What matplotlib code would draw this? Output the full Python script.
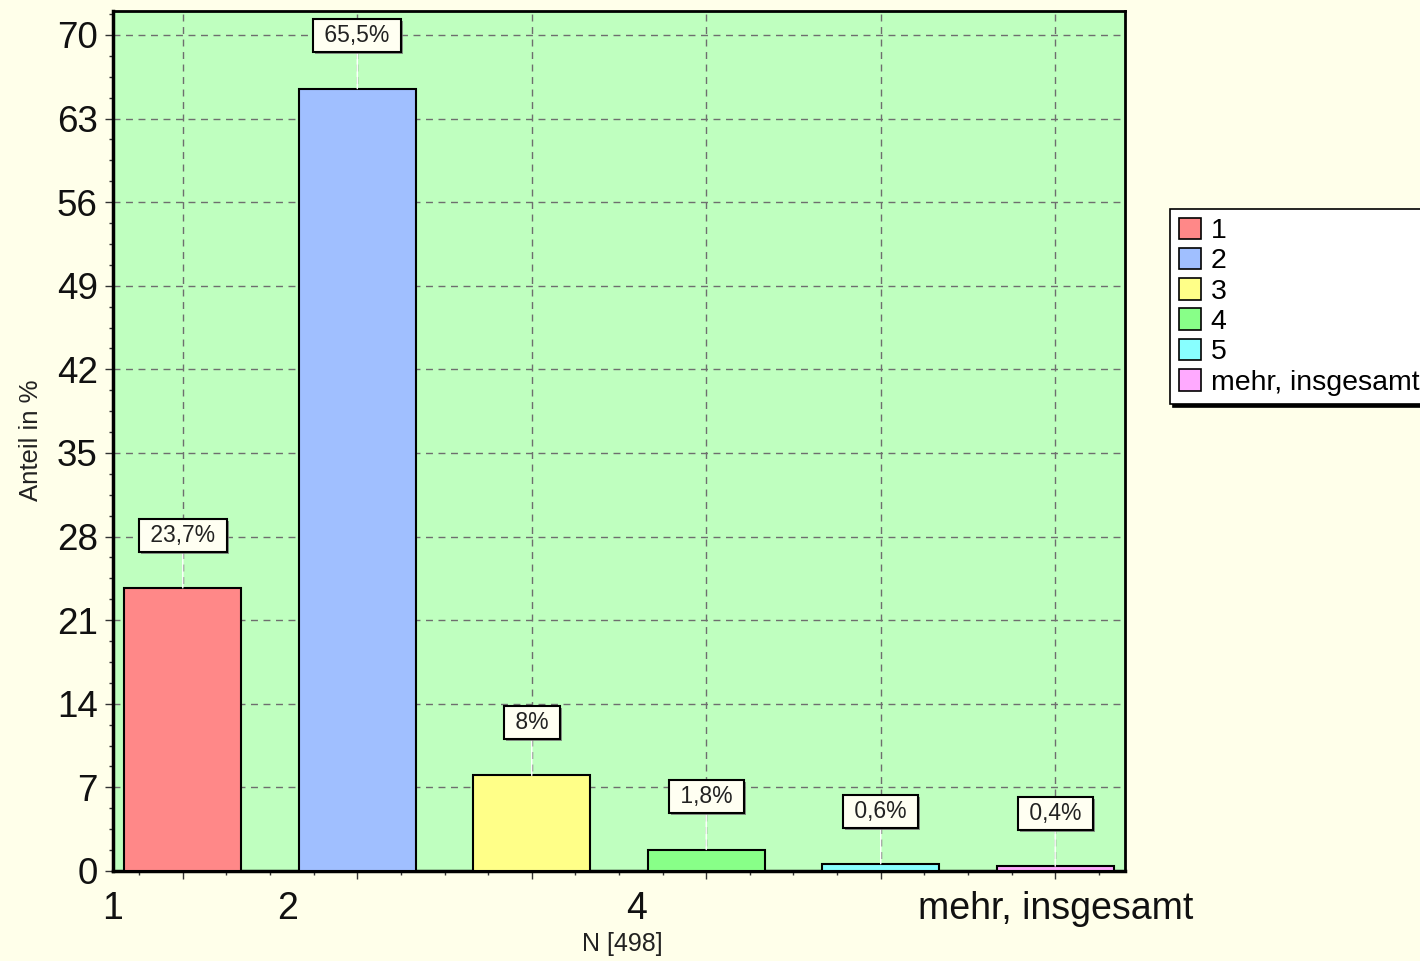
import matplotlib
matplotlib.use("Agg")
import matplotlib.pyplot as plt
from matplotlib.patches import Patch
from matplotlib.ticker import MultipleLocator
import matplotlib.patheffects as pe

# ----------------------------
# Data
# ----------------------------

categories = ["1", "2", "3", "4", "5", "mehr, insgesamt"]
values = [23.7, 65.5, 8.0, 1.8, 0.6, 0.4]
colors = ["#FF8888", "#A0BFFF", "#FFFF88", "#88FF88", "#88FFFF", "#FFAAFF"]

# odd axis labels as shown in the original
xtick_pos = [0.6, 1.6, 3.6, 6.0]
xtick_labels = ["1", "2", "4", "mehr, insgesamt"]
yticks = [0, 7, 14, 21, 28, 35, 42, 49, 56, 63, 70]

plt.rcParams["font.family"] = ["Liberation Sans", "DejaVu Sans"]

# ----------------------------
# Figure
# ----------------------------

fig = plt.figure(figsize=(14.2, 9.61), dpi=100, facecolor="#FFFFEA")
ax = fig.add_axes([113 / 1420, 1 - 871 / 961, 1012 / 1420, 860 / 961])
ax.set_facecolor("#BFFFBF")

x = list(range(1, len(values) + 1))
ax.bar(x, values, width=0.67, color=colors, edgecolor="black", linewidth=1.5, zorder=3)

ax.set_xlim(0.6, 6.4)
ax.set_ylim(0, 72)

ax.set_xticks(x)
ax.set_xticklabels([])
ax.xaxis.set_minor_locator(MultipleLocator(0.25))
ax.set_yticks(yticks)
ax.yaxis.set_minor_locator(MultipleLocator(1.75))
ax.tick_params(axis="both", which="major", length=6, width=1, direction="out", color="#333333")
ax.tick_params(axis="both", which="minor", length=3, width=1, direction="out", color="#333333")
ax.tick_params(axis="y", labelsize=26.5, pad=5, labelcolor="#111111")

for sp in ax.spines.values():
    sp.set_linewidth(2)
ax.spines["left"].set_linewidth(2.5)
ax.spines["bottom"].set_linewidth(2.5)

ax.set_axisbelow(True)
ax.grid(True, color="#6E6E6E", linestyle=(0, (5, 4)), linewidth=1)

# x labels placed where the source program put them
for pos, lab in zip(xtick_pos, xtick_labels):
    ax.text(pos, -0.044, lab, transform=ax.get_xaxis_transform(), ha="center", va="center",
            fontsize=27, color="#111111")

# value labels
for xi, v in zip(x, values):
    txt = f"{v:g}".replace(".", ",") + "%"
    t = ax.annotate(" " + txt + " ", xy=(xi, v), xytext=(0, 38), textcoords="offset points",
                    ha="center", va="center", fontsize=16.5, color="#222222", zorder=5,
                    bbox=dict(boxstyle="square,pad=0.22", fc="#FFFFF2", ec="black", lw=1.5),
                    arrowprops=dict(arrowstyle="-", color="white", lw=1, shrinkA=0, shrinkB=0))
    t.get_bbox_patch().set_path_effects([pe.SimplePatchShadow(offset=(1.5, -1.5), shadow_rgbFace="#777777", alpha=0.8), pe.Normal()])

fig.text(31 / 1420, 1 - 440 / 961, "Anteil in %", rotation=90, ha="center", va="center",
         fontsize=18.5, color="#222222")
fig.text(622 / 1420, 1 - 944 / 961, "N [498]", ha="center", va="center", fontsize=18, color="#222222")

# ----------------------------
# Legend (runs past the right edge, as in the original)
# ----------------------------

handles = [Patch(facecolor=c, edgecolor="black", linewidth=1.2) for c in colors]
leg = fig.legend(handles, categories, loc="upper left", bbox_to_anchor=(1170 / 1420, 1 - 209 / 961),
                 fontsize=20.5, frameon=True, fancybox=False, shadow={"color": "black", "alpha": 1},
                 handlelength=0.78, handleheight=0.78, handletextpad=0.35, labelspacing=0.13,
                 borderpad=0.3, borderaxespad=0)
leg.get_frame().set_edgecolor("black")
leg.get_frame().set_linewidth(1.2)
leg.get_frame().set_facecolor("white")
leg.get_frame().set_alpha(1)

fig.savefig("out.png", dpi=100, facecolor=fig.get_facecolor())
